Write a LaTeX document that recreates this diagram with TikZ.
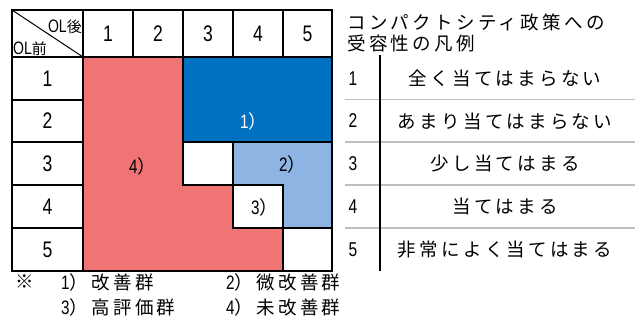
\documentclass[tikz,border=0pt]{standalone}
\usepackage{fontspec}
\setmainfont{Noto Sans CJK JP}
\newfontfamily\jpfont[LetterSpace=18]{Noto Sans CJK JP}
\newfontfamily\narrowfont[FakeStretch=0.78]{Liberation Sans}
\definecolor{grpred}{RGB}{241,116,117}
\definecolor{grpblue}{RGB}{0,112,192}
\definecolor{grplight}{RGB}{142,180,227}
\definecolor{rulegray}{RGB}{191,191,191}
\newcommand{\grplabel}[2]{{\narrowfont\fontsize{19.5bp}{20bp}\selectfont #1}）#2}
\begin{document}
\begin{tikzpicture}[x=1bp,y=-1bp,
    cell/.style={draw=black,line width=2bp},
    num/.style={font=\narrowfont\fontsize{22.5bp}{23bp}\selectfont,inner sep=0pt},
    legnum/.style={font=\narrowfont\fontsize{20bp}{20bp}\selectfont,inner sep=0pt},
    jp/.style={font=\jpfont\fontsize{18.5bp}{20bp}\selectfont,inner sep=0pt},
    grp/.style={font=\jpfont\fontsize{18.5bp}{20bp}\selectfont,inner sep=0pt,anchor=west}]
    \useasboundingbox[fill=white] (0,0) rectangle (635,320);
    \filldraw[cell,fill=grpred] (83,57) -- (183,57) -- (183,185) -- (233,185) -- (233,228) -- (283,228) -- (283,271) -- (83,271) -- cycle;
    \filldraw[cell,fill=grpblue] (183,57) rectangle (332,142);
    \filldraw[cell,fill=grplight] (233,142) -- (332,142) -- (332,228) -- (283,228) -- (283,185) -- (233,185) -- cycle;
    \draw[cell] (183,142) rectangle (233,185);
    \draw[cell] (233,185) rectangle (283,228);
    \draw[cell] (283,228) rectangle (332,271);
    \draw[cell] (12,10) rectangle (332,57);
    \draw[cell] (12,57) rectangle (83,271);
    \draw[cell] (83,10) -- (83,57) (133,10) -- (133,57) (183,10) -- (183,57) (233,10) -- (233,57) (283,10) -- (283,57);
    \draw[cell] (12,99.5) -- (83,99.5) (12,142) -- (83,142) (12,185) -- (83,185) (12,228) -- (83,228);
    \draw[line width=1bp] (12,10) -- (83,57);
    \node[anchor=east,inner sep=0pt] (after) at (82,27) {\narrowfont\fontsize{18bp}{18bp}\selectfont OL\fontsize{15bp}{18bp}\selectfont\jpfont 後};
    \node[anchor=west,inner sep=0pt] (before) at (13,48.5) {\narrowfont\fontsize{18bp}{18bp}\selectfont OL\fontsize{15bp}{18bp}\selectfont\jpfont 前};
    \node[num] (h1) at (108,33.5) {1};
    \node[num] (h2) at (158,33.5) {2};
    \node[num] (h3) at (208,33.5) {3};
    \node[num] (h4) at (258,33.5) {4};
    \node[num] (h5) at (307.5,33.5) {5};
    \node[num] (r1) at (47.5,78.5) {1};
    \node[num] (r2) at (47.5,121) {2};
    \node[num] (r3) at (47.5,163.5) {3};
    \node[num] (r4) at (47.5,206.5) {4};
    \node[num] (r5) at (47.5,249.5) {5};
    \node[grp,text=white] (ga) at (240,121) {\grplabel{1}{}};
    \node[grp] (gb) at (279,164) {\grplabel{2}{}};
    \node[grp] (gc) at (251,207) {\grplabel{3}{}};
    \node[grp] (gd) at (129,166) {\grplabel{4}{}};
    \node[jp] (note) at (25,282) {※};
    \node[grp] (n1) at (61,282) {\grplabel{1}{改善群}};
    \node[grp] (n2) at (226,282) {\grplabel{2}{微改善群}};
    \node[grp] (n3) at (61,307) {\grplabel{3}{高評価群}};
    \node[grp] (n4) at (226,307) {\grplabel{4}{未改善群}};
    \node[jp,anchor=west] (title1) at (347,22) {コンパクトシティ政策への};
    \node[jp,anchor=west] (title2) at (347,43) {受容性の凡例};
    \draw[rulegray,line width=1.5bp] (345,99.5) -- (635,99.5) (345,142) -- (635,142) (345,185) -- (635,185) (345,228) -- (635,228);
    \draw[line width=2bp] (380,55) -- (380,271);
    \node[legnum] (l1) at (353,78.5) {1};
    \node[legnum] (l2) at (353,121) {2};
    \node[legnum] (l3) at (353,163.5) {3};
    \node[legnum] (l4) at (353,206.5) {4};
    \node[legnum] (l5) at (353,249.5) {5};
    \node[jp] (e1) at (505,78.5) {全く当てはまらない};
    \node[jp] (e2) at (505,121) {あまり当てはまらない};
    \node[jp] (e3) at (505,163.5) {少し当てはまる};
    \node[jp] (e4) at (505,206.5) {当てはまる};
    \node[jp] (e5) at (505,249.5) {非常によく当てはまる};
\end{tikzpicture}
\end{document}
